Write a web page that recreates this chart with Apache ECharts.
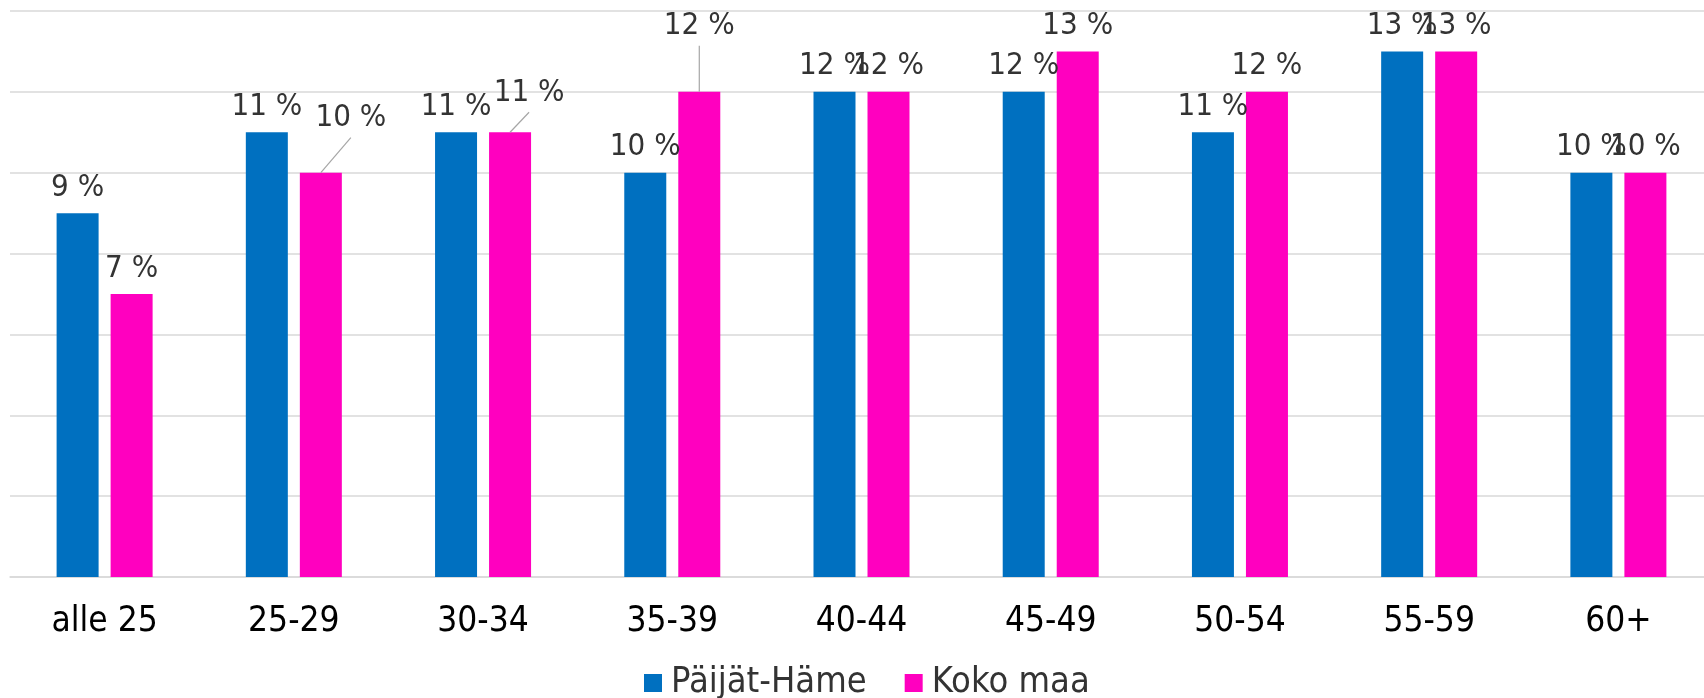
<!DOCTYPE html>
<html>
<head>
<meta charset="utf-8">
<title>Ikäjakauma</title>
<script src="https://cdn.jsdelivr.net/npm/echarts@6/dist/echarts.min.js"></script>
<style>
  html, body { margin: 0; padding: 0; background: #fff; }
  #chart { width: 1704px; height: 698px; }
</style>
</head>
<body>
<div id="chart"></div>
<script>
// data (%)
const categories = ['alle 25', '25-29', '30-34', '35-39', '40-44', '45-49', '50-54', '55-59', '60+']
const paijatHame = [9, 11, 11, 10, 12, 12, 11, 13, 10]
const kokoMaa = [7, 10, 11, 12, 12, 13, 12, 13, 10]
const seriesNames = ['Päijät-Häme', 'Koko maa']

// Koko maa labels that were dragged away from their bar (index -> shift in px)
const movedLabels = {
  1: { dx: 30, dy: -29 },
  2: { dx: 19, dy: -14 },
  3: { dx: 0, dy: -40 },
}

const FONT = '"DejaVu Sans Condensed", "DejaVu Sans", sans-serif'
const LABEL_DIST = 10
const labelStyle = {
  show: true,
  position: 'top',
  distance: LABEL_DIST,
  formatter: '{c} %',
  fontFamily: FONT,
  fontSize: 31,
  color: '#333333',
}

const chart = echarts.init(document.getElementById('chart'))

const option = {
  animation: false,
  grid: {
    left: 10,
    width: 1703,
    top: 11,
    bottom: 121,
    outerBoundsMode: 'none',
  },
  legend: {
    data: seriesNames,
    left: 644,
    top: 665,
    padding: 0,
    icon: 'rect',
    itemWidth: 18,
    itemHeight: 18,
    itemGap: 38,
    textStyle: {
      fontFamily: FONT,
      fontSize: 36,
      color: '#333333',
      padding: [0, 0, 0, 4],
    },
  },
  xAxis: {
    type: 'category',
    data: categories,
    axisTick: { show: false },
    axisLine: { lineStyle: { color: '#d9d9d9', width: 1.5 } },
    axisLabel: {
      margin: 27,
      fontFamily: FONT,
      fontSize: 35,
      color: '#000000',
    },
  },
  yAxis: {
    type: 'value',
    min: 0,
    max: 14,
    interval: 2,
    axisLabel: { show: false },
    axisLine: { show: false },
    axisTick: { show: false },
    splitLine: { lineStyle: { color: '#d9d9d9', width: 1.5 } },
  },
  series: [
    {
      name: seriesNames[0],
      type: 'bar',
      barWidth: 42,
      barGap: '28.6%',
      itemStyle: { color: '#0070C0' },
      label: labelStyle,
      data: paijatHame,
    },
    {
      name: seriesNames[1],
      type: 'bar',
      barWidth: 42,
      itemStyle: { color: '#FF00BF' },
      label: labelStyle,
      labelLayout: (params) => {
        const m = movedLabels[params.dataIndex]
        return m ? { dx: m.dx, dy: m.dy } : {}
      },
      data: kokoMaa,
    },
  ],
}

chart.setOption(option)

// leader lines from bar top to the moved label, using the bar layout computed by echarts
const barData = chart.getModel().getSeriesByIndex(1).getData()
const leaders = Object.keys(movedLabels).map((k) => {
  const i = Number(k)
  const m = movedLabels[i]
  const lay = barData.getItemLayout(i)
  const cx = lay.x + lay.width / 2
  const top = Math.min(lay.y, lay.y + lay.height)
  return {
    type: 'line',
    z: 10,
    silent: true,
    shape: {
      x1: cx,
      y1: top,
      x2: cx + m.dx,
      y2: top - LABEL_DIST + m.dy + 4, // small gap under the label box
    },
    style: { stroke: '#a6a6a6', lineWidth: 1.2 },
  }
})
chart.setOption({ graphic: leaders })
</script>
</body>
</html>
